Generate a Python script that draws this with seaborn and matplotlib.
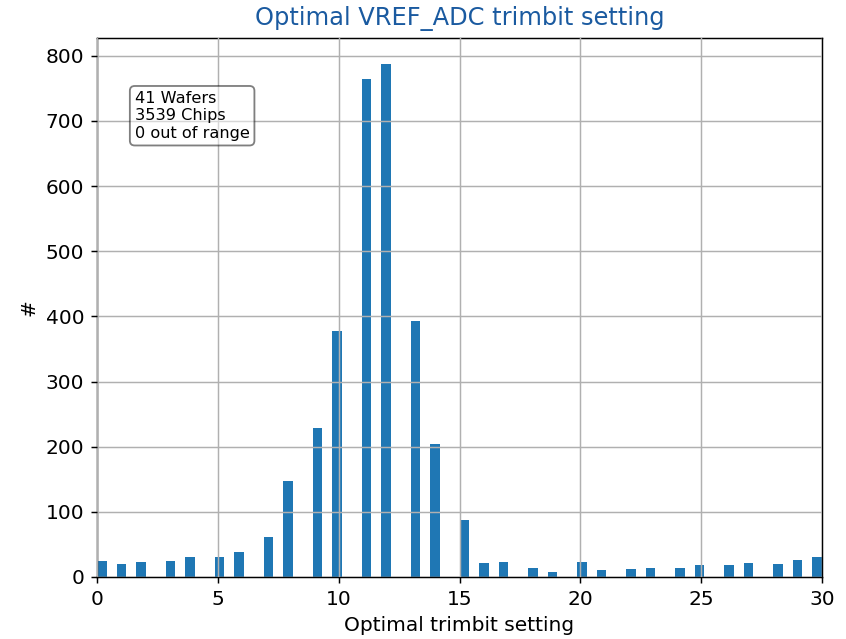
import matplotlib
matplotlib.use("Agg")
import matplotlib.pyplot as plt
import seaborn as sns
import numpy as np
import pandas as pd

# Data: number of chips per optimal trimbit setting
settings = list(range(0, 31))
counts = [25, 20, 23, 25, 30, 31, 39, 62, 148, 229,
          377, 764, 788, 393, 204, 87, 21, 23, 14, 8,
          23, 10, 12, 14, 14, 18, 18, 21, 20, 26, 30]
info_lines = ["41 Wafers", "3539 Chips", "0 out of range"]
title = "Optimal VREF_ADC trimbit setting"
xlabel = "Optimal trimbit setting"
ylabel = "#"

df = pd.DataFrame({"setting": settings, "count": counts})

fig = plt.figure(figsize=(846 / 132, 639 / 132), dpi=132)
ax = fig.add_axes([97 / 846, 62 / 639, 725 / 846, 539 / 639])

sns.histplot(data=df, x="setting", weights="count", bins=74, binrange=(0, 30),
             color="#1f77b4", alpha=1.0, linewidth=0, ax=ax)

ax.set_xlim(0, 30)
ax.set_ylim(0, max(counts) * 1.05)
ax.set_xticks([0, 5, 10, 15, 20, 25, 30])
ax.grid(True, color="#b0b0b0", linewidth=0.8)
ax.set_axisbelow(False)
ax.tick_params(labelsize=11)

ax.set_title(title, color="#1a5aa0", fontsize=13.2, pad=7.2)
ax.set_xlabel(xlabel, fontsize=11)
ax.set_ylabel(ylabel, fontsize=11)

ax.text(0.052, 0.902, "\n".join(info_lines), transform=ax.transAxes,
        fontsize=8.8, va="top", ha="left", zorder=5, linespacing=1.2,
        bbox=dict(boxstyle="round", facecolor="white", alpha=0.5))

fig.savefig("out.png", dpi=132)
